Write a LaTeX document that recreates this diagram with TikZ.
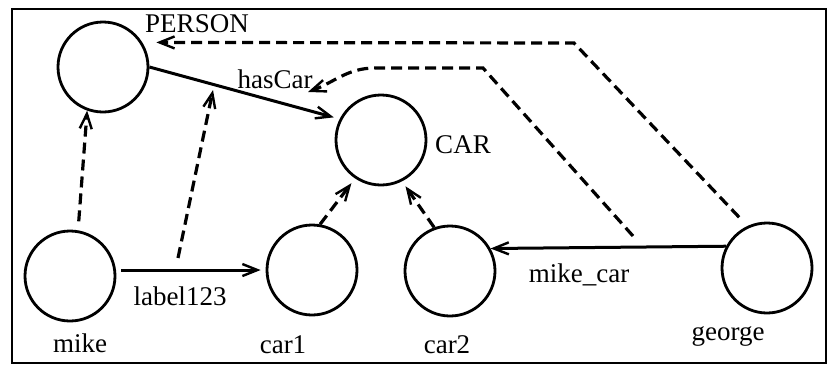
\documentclass[tikz,border=0pt]{standalone}
\usepackage{fontspec}
\setmainfont{Liberation Serif}
\usetikzlibrary{arrows.meta}
\begin{document}
\begin{tikzpicture}[x=1pt,y=-1pt,
  cls/.style={circle,draw,line width=2.8pt,minimum size=90pt,inner sep=0pt},
  lbl/.style={font=\fontsize{27}{30}\selectfont,inner sep=0pt,anchor=base},
  tip/.style={-{Straight Barb[length=15pt,width=12pt,line width=2.4pt]}},
  rel/.style={line width=3pt,tip},
  inst/.style={line width=3.2pt,dash pattern=on 11pt off 6pt,tip}
]
\useasboundingbox (0,0) rectangle (829,365);
\draw[line width=2.6pt] (12,9) rectangle (826,363);

% classes and instances
\node[cls] (person) at (103,67) {};
\node[cls] (car) at (381,140) {};
\node[cls] (mike) at (70,276) {};
\node[cls] (car1) at (312,270) {};
\node[cls] (car2) at (450,271) {};
\node[cls] (george) at (767,268) {};

% names
\node[lbl] (tperson) at (197,32) {PERSON};
\node[lbl] (thascar) at (275,88) {hasCar};
\node[lbl] (tcar) at (463,153) {CAR};
\node[lbl] (tmike) at (80,352) {mike};
\node[lbl] (tlabel) at (180,305) {label123};
\node[lbl] (tcar1) at (283,353) {car1};
\node[lbl] (tcar2) at (447,353) {car2};
\node[lbl] (tgeorge) at (728,340) {george};
\node[lbl] (tmikecar) at (579,282) {mike\_car};

% relations
\draw[rel, shorten >=6pt] (person.east) -- (car.153);
\draw[rel] ([xshift=5pt]mike.east |- car1.west) -- ([xshift=-5pt]car1.west);
\draw[rel] (george.152) -- (car2.29);

% instance-of links
\coordinate (lbmid) at (178,258);
\coordinate (mcmid) at (633,236);
\coordinate (hcmid) at (213,90);
\coordinate (gturn) at (574,43);
\coordinate (mturn) at (483,68);
\coordinate (hctip) at (308,92);

\draw[inst, shorten <=9pt] (mike.80) -- (person.250);
\draw[inst] (lbmid) -- (hcmid);
\draw[inst, shorten >=6pt] (car1.80) -- (car.236);
\draw[inst, shorten >=6pt] (car2.110) -- (car.297);
\draw[inst, shorten <=12pt] (george.115) -- (gturn) -- ([xshift=14pt]person.32);
\draw[inst] (mcmid) -- (mturn) -- ++(-108,0) to[out=180,in=20] (hctip);
\end{tikzpicture}
\end{document}
